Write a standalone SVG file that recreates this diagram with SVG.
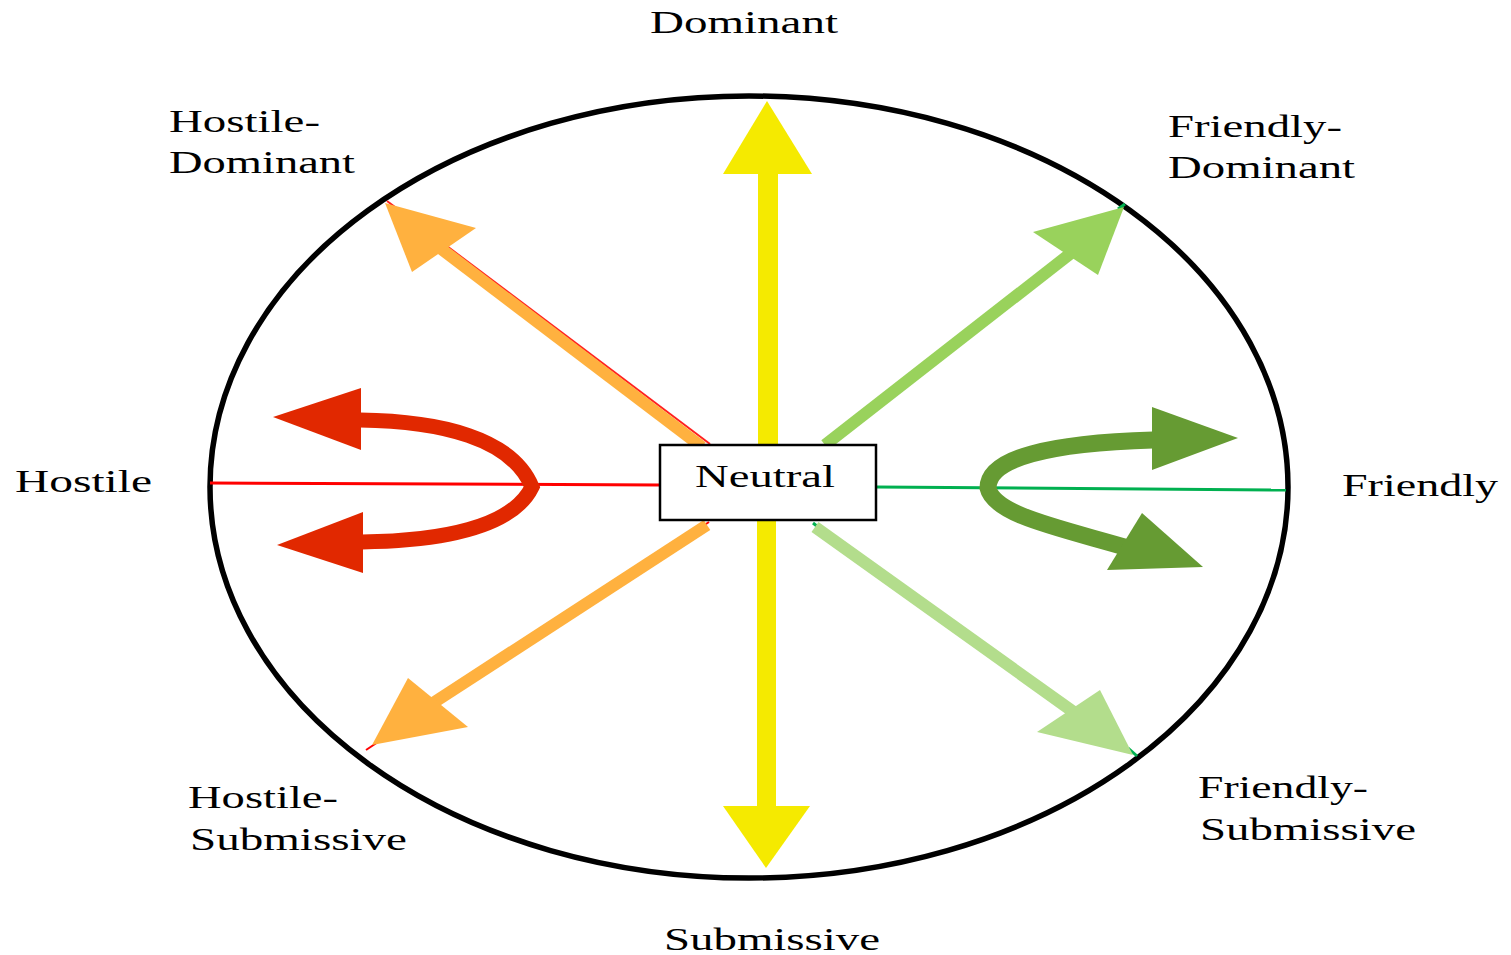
<svg xmlns="http://www.w3.org/2000/svg" width="1511" height="955" viewBox="0 0 1511 955">
<style>
.lbl{font-family:"Liberation Serif","Times New Roman",serif;font-size:32px;fill:#000;}
.thin{fill:none;stroke-width:3;}
.curve{fill:none;stroke-linecap:butt;stroke-linejoin:miter;stroke-miterlimit:10;}
</style>
<rect width="1511" height="955" fill="#fff"/>
<g id="boundary">
<ellipse cx="749" cy="487" rx="539" ry="391" fill="none" stroke="#000" stroke-width="5.5"/>
</g>
<g id="connectors">
<line class="thin" x1="210" y1="483" x2="660" y2="485" stroke="#FF0000"/>
<line class="thin" x1="877" y1="487" x2="1286" y2="490" stroke="#00B050"/>
<line x1="387" y1="201" x2="710" y2="444" stroke="#FF2020" stroke-width="2"/>
<line x1="709" y1="522" x2="366" y2="750" stroke="#FF0000" stroke-width="2"/>
<line x1="1125" y1="204" x2="1118" y2="209" stroke="#00B050" stroke-width="3"/>
<line x1="813" y1="523" x2="818" y2="527" stroke="#00B050" stroke-width="3"/>
<line x1="1128" y1="748" x2="1137" y2="756" stroke="#00B050" stroke-width="3"/>
<g id="arrow-dominant">
<rect x="758" y="172" width="20" height="273" fill="#F5EA00"/>
<polygon points="723,174 812,174 767,101" fill="#F5EA00"/>
</g>
<g id="arrow-submissive">
<rect x="757" y="520" width="19" height="288" fill="#F5EA00"/>
<polygon points="723,806 810,806 766,868" fill="#F5EA00"/>
</g>
<g id="arrow-hostile-dominant">
<line x1="702" y1="447" x2="440" y2="248" stroke="#FFB13F" stroke-width="12"/>
<polygon points="385,203 476,228 412,272" fill="#FFB13F"/>
</g>
<g id="arrow-hostile-submissive">
<line x1="707" y1="525" x2="430" y2="705" stroke="#FFB13F" stroke-width="12"/>
<polygon points="372,745 408,678 468,727" fill="#FFB13F"/>
</g>
<g id="arrow-friendly-dominant">
<line x1="825" y1="445" x2="1075" y2="250" stroke="#99D25C" stroke-width="12"/>
<polygon points="1124,207 1033,232 1098,275" fill="#99D25C"/>
</g>
<g id="arrow-friendly-submissive">
<line x1="815" y1="527" x2="1075" y2="713" stroke="#B3DD8C" stroke-width="12"/>
<polygon points="1133,755 1037,732 1100,690" fill="#B3DD8C"/>
</g>
<g id="arrow-hostile">
<path class="curve" d="M 360,420 C 440,421 512,438 532,487 C 512,528 440,541 362,542" stroke="#E12800" stroke-width="15"/>
<polygon points="361,388 361,450 273,417" fill="#E12800"/>
<polygon points="363,512 363,573 277,545" fill="#E12800"/>
</g>
<g id="arrow-friendly">
<path class="curve" d="M 1153,440 C 1050,443 988,458 988,488 C 994,515 1060,528 1128,548" stroke="#669B33" stroke-width="17"/>
<polygon points="1152,407 1152,470 1238,438" fill="#669B33"/>
<polygon points="1142,513 1107,570 1203,567" fill="#669B33"/>
</g>
</g>
<g id="node-neutral">
<rect x="660" y="445" width="216" height="75" fill="#fff" stroke="#000" stroke-width="2.5"/>
<text class="lbl" x="695" y="487" textLength="140" lengthAdjust="spacingAndGlyphs">Neutral</text>
</g>
<g id="label-dominant"><text class="lbl" x="650" y="33" textLength="188" lengthAdjust="spacingAndGlyphs">Dominant</text></g>
<g id="label-hostile-dominant">
<text class="lbl" x="169" y="132" textLength="151" lengthAdjust="spacingAndGlyphs">Hostile-</text>
<text class="lbl" x="169" y="173" textLength="186" lengthAdjust="spacingAndGlyphs">Dominant</text>
</g>
<g id="label-friendly-dominant">
<text class="lbl" x="1168" y="137" textLength="174" lengthAdjust="spacingAndGlyphs">Friendly-</text>
<text class="lbl" x="1168" y="178" textLength="187" lengthAdjust="spacingAndGlyphs">Dominant</text>
</g>
<g id="label-hostile"><text class="lbl" x="15" y="492" textLength="137" lengthAdjust="spacingAndGlyphs">Hostile</text></g>
<g id="label-friendly"><text class="lbl" x="1342" y="496" textLength="156" lengthAdjust="spacingAndGlyphs">Friendly</text></g>
<g id="label-hostile-submissive">
<text class="lbl" x="188" y="808" textLength="150" lengthAdjust="spacingAndGlyphs">Hostile-</text>
<text class="lbl" x="190" y="850" textLength="217" lengthAdjust="spacingAndGlyphs">Submissive</text>
</g>
<g id="label-friendly-submissive">
<text class="lbl" x="1198" y="798" textLength="170" lengthAdjust="spacingAndGlyphs">Friendly-</text>
<text class="lbl" x="1200" y="840" textLength="216" lengthAdjust="spacingAndGlyphs">Submissive</text>
</g>
<g id="label-submissive"><text class="lbl" x="664" y="950" textLength="216" lengthAdjust="spacingAndGlyphs">Submissive</text></g>
</svg>
